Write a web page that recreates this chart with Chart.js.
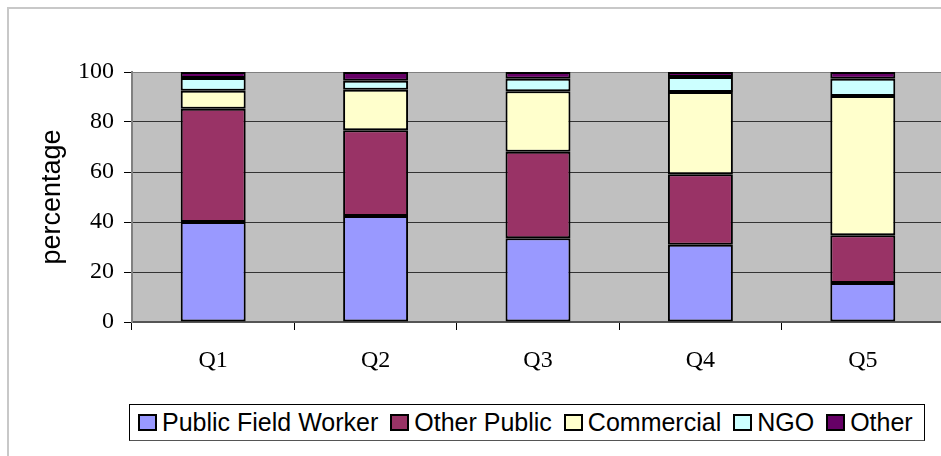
<!DOCTYPE html>
<html>
<head>
<meta charset="utf-8">
<script src="https://cdn.jsdelivr.net/npm/chart.js@4"></script>
<style>
  html, body { margin: 0; padding: 0; background: #fff; overflow: hidden; }
  #wrap { position: relative; width: 941px; height: 456px; overflow: hidden; }
  #frame { position: absolute; left: 7px; top: 7px; width: 960px; height: 470px;
           border-left: 2px solid #c8c8c8; border-top: 2px solid #c8c8c8; }
  #box { position: absolute; left: 0; top: 0; width: 950px; height: 456px; }
  #legend { position: absolute; left: 129px; top: 404px; width: 796px; height: 37px;
            border: 1px solid #000; border-bottom-color: #555; background: #fff;
            display: flex; align-items: center; padding-left: 8px; box-sizing: border-box;
            font-family: "Liberation Sans", Arial, sans-serif; font-size: 25px; color: #000; }
  .item { display: flex; align-items: center; margin-right: 12px; white-space: nowrap; }
  .sw { width: 15px; height: 13px; border: 2px solid #000; margin-right: 5px; }
</style>
</head>
<body>
<div id="wrap">
  <div id="frame"></div>
  <div id="box"><canvas id="chart" width="950" height="456"></canvas></div>
  <div id="legend"></div>
</div>
<script>
// ==========================================
// 1. DATA (percent of respondents per quintile)
// ==========================================
const categories = ['Q1', 'Q2', 'Q3', 'Q4', 'Q5'];
const publicFieldWorker = [40.0, 42.4, 33.5, 30.9, 15.6];
const otherPublic       = [45.3, 34.3, 34.6, 28.2, 19.1];
const commercial        = [7.2, 16.2, 24.2, 32.9, 55.7];
const ngo               = [5.1, 3.6, 5.0, 6.0, 6.9];
const other             = [2.4, 3.5, 2.7, 2.0, 2.7];
const yTicks = [0, 20, 40, 60, 80, 100];

const series = [
  { label: 'Public Field Worker', data: publicFieldWorker, color: '#9999ff' },
  { label: 'Other Public',        data: otherPublic,       color: '#993366' },
  { label: 'Commercial',          data: commercial,        color: '#ffffcc' },
  { label: 'NGO',                 data: ngo,               color: '#ccffff' },
  { label: 'Other',               data: other,             color: '#660066' }
];

// ==========================================
// 2. CHART
// ==========================================
// grey plot background like the old spreadsheet look
const plotBg = {
  id: 'plotBg',
  beforeDraw(chart) {
    const a = chart.chartArea, ctx = chart.ctx;
    ctx.save();
    ctx.fillStyle = '#c0c0c0';
    ctx.fillRect(a.left, a.top, a.right - a.left, a.bottom - a.top);
    ctx.restore();
  }
};

const serif = "'Liberation Serif', 'Times New Roman', serif";

new Chart(document.getElementById('chart'), {
  type: 'bar',
  data: {
    labels: categories,
    datasets: series.map(s => ({
      label: s.label,
      data: s.data,
      backgroundColor: s.color,
      borderColor: '#000',
      borderWidth: 2,
      borderSkipped: false,
      barPercentage: 0.4,
      categoryPercentage: 1.0
    }))
  },
  options: {
    responsive: false,
    animation: false,
    layout: { padding: { top: 72, right: 6, bottom: 84, left: 0 } },
    plugins: {
      legend: { display: false },
      tooltip: { enabled: false }
    },
    scales: {
      x: {
        stacked: true,
        grid: { display: true, offset: true, drawOnChartArea: false, tickLength: 8, tickColor: '#000' },
        border: { color: '#555', width: 2 },
        ticks: { color: '#000', padding: 16, font: { family: serif, size: 24 } },
        afterFit(scale) { scale.height = 50; }
      },
      y: {
        stacked: true,
        min: 0,
        max: 100,
        afterBuildTicks(scale) { scale.ticks = yTicks.map(v => ({ value: v })); },
        grid: {
          color: ctx => (ctx.tick && ctx.tick.value === 100) ? '#808080' : '#333',
          lineWidth: 1,
          tickLength: 8,
          tickColor: '#000'
        },
        border: { color: '#808080', width: 2 },
        ticks: { color: '#000', padding: 10, font: { family: serif, size: 24 } },
        title: {
          display: true,
          text: 'percentage',
          color: '#000',
          padding: { top: 36, bottom: 0 },
          font: { family: "'Liberation Sans', Arial, sans-serif", size: 27 }
        },
        afterFit(scale) { scale.width = 132; }
      }
    }
  },
  plugins: [plotBg]
});

// ==========================================
// 3. LEGEND (boxed, below the plot)
// ==========================================
const legend = document.getElementById('legend');
series.forEach(s => {
  const item = document.createElement('div');
  item.className = 'item';
  const sw = document.createElement('span');
  sw.className = 'sw';
  sw.style.background = s.color;
  const txt = document.createElement('span');
  txt.textContent = s.label;
  item.appendChild(sw);
  item.appendChild(txt);
  legend.appendChild(item);
});
</script>
</body>
</html>
